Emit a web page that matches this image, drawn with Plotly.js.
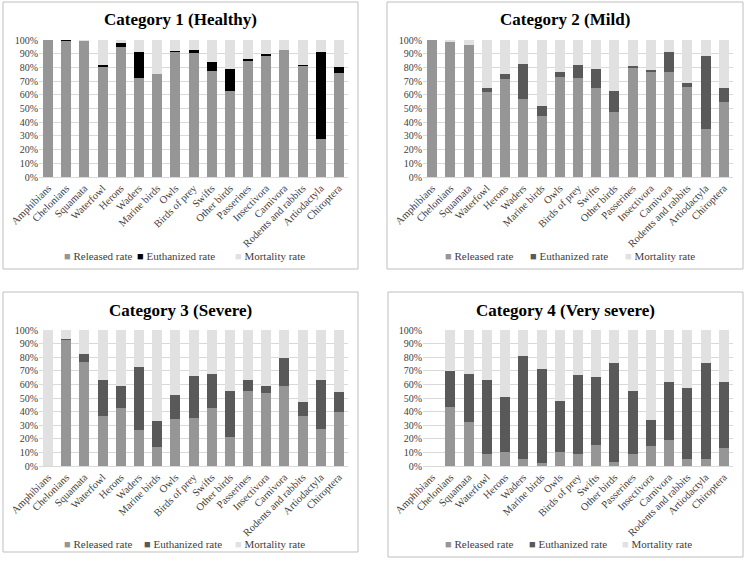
<!DOCTYPE html>
<html>
<head>
<meta charset="utf-8">
<script src="https://cdn.plot.ly/plotly-3.0.1.min.js"></script>
<style>
html,body{margin:0;padding:0;background:#fff;}
#chart{width:745px;height:562px;}
</style>
</head>
<body>
<div id="chart"></div>
<script>
var categories = ["Amphibians","Chelonians","Squamata","Waterfowl","Herons","Waders","Marine birds","Owls","Birds of prey","Swifts","Other birds","Passerines","Insectivora","Carnivora","Rodents and rabbits","Artiodactyla","Chiroptera"];
var panelTitles = ["Category 1 (Healthy)","Category 2 (Mild)","Category 3 (Severe)","Category 4 (Very severe)"];
var seriesNames = ["Released rate","Euthanized rate","Mortality rate"];
var yTickVals = [0,10,20,30,40,50,60,70,80,90,100];
var yTickText = ["0%","10%","20%","30%","40%","50%","60%","70%","80%","90%","100%"];

var released1 = [100,99.5,99,80.5,95,72,75,91,90.5,77.5,63,85,88.5,93,81,28,76];
var euthanized1 = [0,0.5,0,1,2.5,19,0,1,2,6.5,15.5,1,1.5,0,1,63,4.5];
var mortality1 = [0,0,1,18.5,2.5,9,25,8,7.5,16,21.5,14,10,7,18,9,19.5];

var released2 = [100,98.5,96,62,71.5,57,44.5,73,72,65,47.5,79.5,77,77,65.5,35,54.5];
var euthanized2 = [0,0,0,3,3.5,25.5,7.5,3.5,9.5,13.5,15,1.5,1,14,3,53,10.5];
var mortality2 = [0,1.5,4,35,25,17.5,48,23.5,18.5,21.5,37.5,19,22,9,31.5,12,35];

var released3 = [0,92.5,76.5,37,43,26.5,14,34.5,35.5,43,21.5,55.5,53.5,58.5,37,27,40];
var euthanized3 = [0,1,6,26,15.5,46,19,17.5,30.5,24.5,34,7.5,5.5,21,10,36.5,14.5];
var mortality3 = [100,6.5,17.5,37,41.5,27.5,67,48,34,32.5,44.5,37,41,20.5,53,36.5,45.5];

var released4 = [0,43.5,32.5,8.5,10,5,2.5,10,8.5,15.5,3,8.5,15,19,5,5,13];
var euthanized4 = [0,26,35.5,54.5,40.5,76,69,37.5,58.5,50,72.5,47,19,43,52,70.5,48.5];
var mortality4 = [0,30.5,32,37,49.5,19,28.5,52.5,33,34.5,24.5,44.5,66,38,43,24.5,38.5];

var W = 745, H = 562;
function px(x){return x/W;}
function py(y){return 1 - y/H;}

var panels = [
  {rel:released1, eut:euthanized1, mor:mortality1, eutColor:"#000000",
   plot:[39,348,40,177], box:[3,358,2,269], title:[180,20], legend:[[62,256],[135,256],[233,256]]},
  {rel:released2, eut:euthanized2, mor:mortality2, eutColor:"#595959",
   plot:[423,733,40,177], box:[387,743,2,269], title:[565,20], legend:[[443,256],[528,256],[623,256]]},
  {rel:released3, eut:euthanized3, mor:mortality3, eutColor:"#595959",
   plot:[39,348,330,466], box:[3,358,292,552], title:[180,310], legend:[[62,544],[142,544],[233,544]]},
  {rel:released4, eut:euthanized4, mor:mortality4, eutColor:"#595959",
   plot:[423,733,330,466], box:[388,743,292,557], title:[565,310], legend:[[443,544],[527,544],[620,544]]}
];

var font = "Liberation Serif, Times New Roman, serif";
var releasedColor = "#969696";
var mortalityColor = "#e1e1e1";

var data = [];
var layout = {
  width: W, height: H,
  margin: {l:0,r:0,t:0,b:0},
  paper_bgcolor: "#ffffff",
  plot_bgcolor: "#ffffff",
  barmode: "stack",
  bargap: 0.45,
  font: {family: font, color: "#404040", size: 10},
  showlegend: false,
  shapes: [],
  annotations: []
};

panels.forEach(function(p, i){
  var n = i + 1;
  var xa = n === 1 ? "x" : "x" + n;
  var ya = n === 1 ? "y" : "y" + n;
  var vals = [p.rel, p.eut, p.mor];
  var colors = [releasedColor, p.eutColor, mortalityColor];
  for (var k = 0; k < 3; k++) {
    data.push({
      type: "bar",
      x: categories,
      y: vals[k],
      name: seriesNames[k],
      xaxis: xa, yaxis: ya,
      marker: {color: colors[k], line: {width: 0}},
      hoverinfo: "skip"
    });
    layout.annotations.push({
      text: "<span style='color:" + colors[k] + "'>■</span> " + seriesNames[k],
      xref: "paper", yref: "paper",
      x: px(p.legend[k][0]), y: py(p.legend[k][1]),
      xanchor: "left", yanchor: "middle",
      showarrow: false,
      font: {family: font, size: 11, color: "#404040"}
    });
  }
  var xk = n === 1 ? "xaxis" : "xaxis" + n;
  var yk = n === 1 ? "yaxis" : "yaxis" + n;
  layout[xk] = {
    domain: [px(p.plot[0]), px(p.plot[1])],
    anchor: ya,
    type: "category",
    tickangle: -45,
    tickfont: {family: font, size: 10.5, color: "#404040"},
    showline: true, linecolor: "#d9d9d9", linewidth: 1,
    ticks: "", showgrid: false, zeroline: false,
    fixedrange: true
  };
  layout[yk] = {
    domain: [py(p.plot[3]), py(p.plot[2])],
    anchor: xa,
    range: [0, 100],
    tickmode: "array",
    tickvals: yTickVals,
    ticktext: yTickText,
    tickfont: {family: font, size: 10, color: "#404040"},
    showgrid: true, gridcolor: "#d9d9d9", gridwidth: 1,
    zeroline: false, showline: false, ticks: "",
    fixedrange: true
  };
  layout.shapes.push({
    type: "rect", xref: "paper", yref: "paper",
    x0: px(p.box[0]), x1: px(p.box[1]), y0: py(p.box[3]), y1: py(p.box[2]),
    line: {color: "#bfbfbf", width: 1}, fillcolor: "rgba(0,0,0,0)", layer: "below"
  });
  layout.annotations.push({
    text: "<b>" + panelTitles[i] + "</b>",
    xref: "paper", yref: "paper",
    x: px(p.title[0]), y: py(p.title[1]),
    xanchor: "center", yanchor: "middle",
    showarrow: false,
    font: {family: font, size: 17, color: "#000000"}
  });
});

Plotly.newPlot("chart", data, layout, {displayModeBar: false, staticPlot: true});
</script>
</body>
</html>
